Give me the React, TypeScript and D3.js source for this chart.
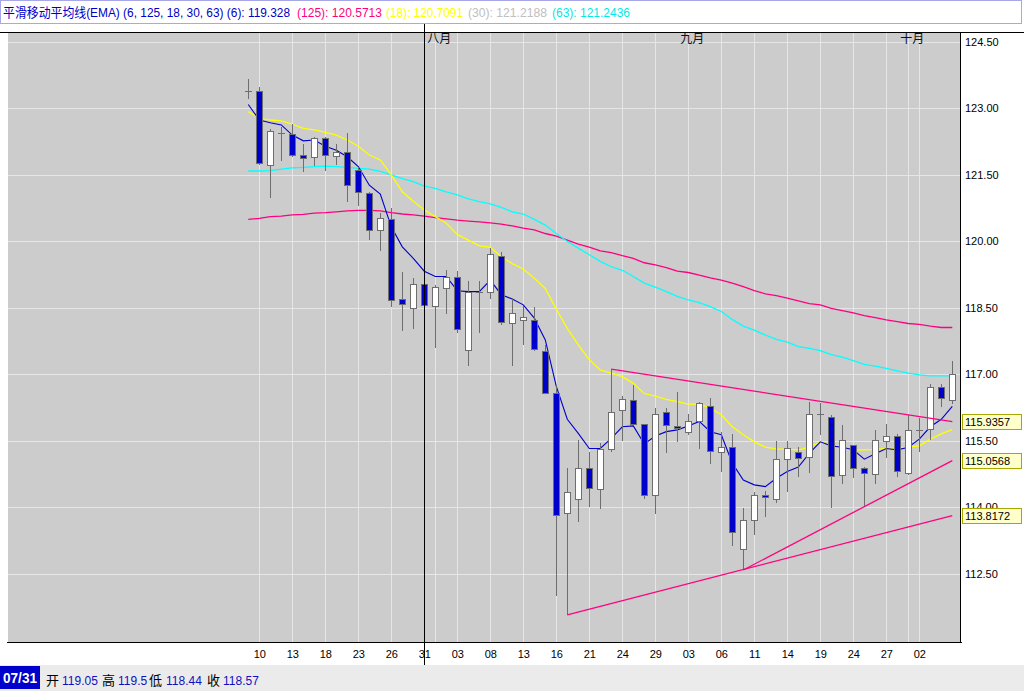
import React, { useEffect, useRef } from 'react';
import * as d3 from 'd3';

// candles (index 0..64)
const opens = [
  123.39, 123.40, 121.72, 122.45, 122.42, 121.94, 121.90, 122.33, 121.92, 122.01,
  121.61, 121.10, 120.27, 120.50, 118.70, 118.49, 119.05, 118.54, 118.94, 119.21,
  117.55, 118.86, 118.85, 119.67, 118.15, 118.22, 118.24, 117.54, 116.58, 113.87,
  114.18, 114.88, 114.41, 115.31, 116.19, 116.42, 115.88, 114.27, 116.15, 115.83,
  115.71, 115.96, 116.30, 115.24, 115.37, 113.06, 113.71, 114.28, 114.18, 115.09,
  115.24, 115.13, 116.11, 116.05, 114.73, 115.40, 114.88, 114.75, 115.49, 115.62,
  114.77, 115.75, 115.76, 116.71, 116.42,
];
const highs = [
  123.66, 123.48, 122.53, 122.58, 122.64, 122.20, 122.36, 122.36, 122.20, 122.45,
  121.67, 121.12, 120.64, 120.75, 119.32, 119.17, 119.50, 119.02, 119.36, 119.34,
  119.11, 119.11, 119.86, 119.76, 118.72, 118.55, 118.52, 117.67, 116.76, 114.89,
  115.52, 115.26, 115.45, 117.12, 116.52, 116.76, 115.88, 116.24, 116.24, 116.60,
  116.10, 116.39, 116.46, 115.71, 115.66, 113.98, 114.36, 114.38, 115.50, 115.49,
  115.36, 116.39, 116.36, 116.09, 115.86, 115.41, 114.91, 115.75, 115.88, 115.66,
  116.09, 116.01, 116.79, 116.79, 117.30,
];
const lows = [
  123.21, 121.72, 120.97, 121.82, 121.91, 121.56, 121.71, 121.58, 121.72, 120.88,
  120.79, 120.03, 119.79, 118.52, 117.99, 118.02, 118.44, 117.59, 118.36, 117.93,
  117.18, 117.94, 118.71, 118.12, 117.20, 117.67, 117.54, 116.58, 112.01, 111.575,
  113.68, 114.00, 113.97, 115.26, 115.51, 115.88, 114.20, 113.85, 115.22, 115.48,
  115.64, 115.32, 114.98, 114.79, 113.12, 112.59, 113.38, 113.78, 114.09, 114.34,
  114.68, 114.77, 115.64, 113.98, 114.53, 114.66, 114.02, 114.53, 115.12, 114.68,
  114.73, 115.26, 115.52, 116.27, 116.34,
];
const closes = [
  123.39, 121.76, 122.50, 122.45, 121.94, 121.88, 122.33, 121.94, 122.01, 121.27,
  121.11, 120.27, 120.52, 118.68, 118.59, 119.05, 118.57, 118.97, 119.21, 118.02,
  118.87, 118.86, 119.72, 118.18, 118.38, 118.29, 117.58, 116.58, 113.82, 114.36,
  114.88, 114.43, 115.33, 116.15, 116.44, 115.88, 114.27, 116.10, 115.85, 115.79,
  115.96, 116.35, 115.27, 115.36, 113.44, 113.71, 114.28, 114.23, 115.09, 115.34,
  115.11, 116.10, 116.11, 114.71, 115.52, 114.88, 114.77, 115.52, 115.61, 114.82,
  115.74, 115.75, 116.71, 116.46, 117.01,
];

// moving averages as drawn
const ema6 = [
  123.09, 122.74, 122.68, 122.63, 122.40, 122.27, 122.29, 122.15, 122.06, 121.91,
  121.69, 121.27, 121.07, 120.33, 119.88, 119.62, 119.33, 119.21, 119.21, 118.89,
  118.87, 118.87, 119.13, 118.80, 118.70, 118.57, 118.27, 117.78, 116.73, 115.99,
  115.67, 115.33, 115.33, 115.56, 115.82, 115.84, 115.43, 115.61, 115.71, 115.75,
  115.84, 115.94, 115.71, 115.64, 115.00, 114.62, 114.51, 114.47, 114.66, 114.81,
  114.91, 115.22, 115.48, 115.39, 115.36, 115.30, 115.09, 115.21, 115.33, 115.30,
  115.36, 115.54, 115.82, 115.99, 116.28,
];
const ema18 = [
  122.93, 122.78, 122.74, 122.72, 122.65, 122.55, 122.52, 122.46, 122.40, 122.29,
  122.15, 121.95, 121.84, 121.50, 121.12, 120.91, 120.71, 120.56, 120.41, 120.16,
  120.03, 119.90, 119.87, 119.66, 119.50, 119.38, 119.17, 118.94, 118.47, 118.04,
  117.67, 117.33, 117.10, 117.03, 116.95, 116.80, 116.57, 116.51, 116.44, 116.39,
  116.33, 116.33, 116.24, 116.09, 115.82, 115.64, 115.48, 115.36, 115.32, 115.31,
  115.30, 115.36, 115.48, 115.41, 115.36, 115.30, 115.30, 115.31, 115.33, 115.33,
  115.36, 115.39, 115.54, 115.66, 115.76,
];
const ema63 = [
  121.59, 121.59, 121.60, 121.63, 121.66, 121.67, 121.69, 121.70, 121.69, 121.67,
  121.65, 121.63, 121.58, 121.50, 121.42, 121.35, 121.25, 121.20, 121.12, 121.05,
  120.96, 120.90, 120.85, 120.77, 120.67, 120.62, 120.50, 120.37, 120.18, 120.00,
  119.85, 119.70, 119.55, 119.43, 119.35, 119.21, 119.06, 118.97, 118.87, 118.76,
  118.68, 118.62, 118.53, 118.42, 118.24, 118.09, 118.00, 117.89, 117.79, 117.73,
  117.63, 117.59, 117.54, 117.45, 117.39, 117.31, 117.23, 117.19, 117.14, 117.08,
  117.03, 116.99, 116.97, 116.97, 116.97,
];
const ema125 = [
  120.50, 120.52, 120.56, 120.57, 120.60, 120.61, 120.64, 120.65, 120.67, 120.69,
  120.70, 120.70, 120.69, 120.65, 120.62, 120.60, 120.57, 120.54, 120.51, 120.48,
  120.46, 120.44, 120.42, 120.39, 120.35, 120.30, 120.26, 120.18, 120.12, 120.03,
  119.94, 119.87, 119.79, 119.75, 119.68, 119.62, 119.52, 119.47, 119.41, 119.33,
  119.30, 119.24, 119.18, 119.13, 119.06, 118.98, 118.89, 118.82, 118.78, 118.72,
  118.66, 118.60, 118.57, 118.49, 118.44, 118.39, 118.33, 118.28, 118.23, 118.19,
  118.15, 118.13, 118.09, 118.06, 118.06,
];

// x axis
const tickIndex = [1, 4, 7, 10, 13, 16, 19, 22, 25, 28, 31, 34, 37, 40, 43, 46, 49, 52, 55, 58, 61];
const tickLabels = ['10', '13', '18', '23', '26', '31', '03', '08', '13', '16', '21', '24', '29', '03', '06', '11', '14', '19', '24', '27', '02'];
const monthIndex = [17, 40, 60];
const monthLabels = ['八月', '九月', '十月'];

// y axis
const priceTicks = [124.5, 123, 121.5, 120, 118.5, 117, 115.5, 114, 112.5];

// trend lines
const trendFrom = [33, 29, 45];
const trendFromVal = [117.12, 111.575, 112.59];
const trendTo = [64, 64, 64];
const trendToVal = [115.9357, 113.8172, 115.0568];

// cursor / legend
const cursorIndex = 16;
const cursorDate = '07/31';
const legendParts = [
  { text: '平滑移动平均线(EMA) (6, 125, 18, 30, 63) (6): 119.328', color: '#0000c8', x: 3, w: 287 },
  { text: '(125): 120.5713', color: '#ff0080', x: 297, w: 85 },
  { text: '(18): 120.7091', color: '#ffff00', x: 386, w: 77 },
  { text: '(30): 121.2188', color: '#c0c0c0', x: 468, w: 79 },
  { text: '(63): 121.2436', color: '#00e8e8', x: 552, w: 78 },
];

const FONT = "'Liberation Sans', Arial, 'Noto Sans CJK SC', sans-serif";

const App: React.FC = () => {
  const svgRef = useRef<SVGSVGElement>(null);

  useEffect(() => {
    const svg = d3.select(svgRef.current);
    svg.selectAll('*').remove();

    const width = 1024;
    const height = 691;
    const plot = { left: 8, right: 961, top: 33, bottom: 642 };

    svg.attr('width', width).attr('height', height);

    const x = d3.scaleLinear().domain([0, 64]).range([248.3, 952.3]);
    const y = d3.scaleLinear().domain([110.965, 124.703]).range([plot.bottom, plot.top]);
    const px = (v: number) => Math.round(v) + 0.5;

    svg.append('rect').attr('width', width).attr('height', height).attr('fill', '#fff');

    // legend bar
    svg.append('rect')
      .attr('x', 0.5).attr('y', 0.5).attr('width', 1021).attr('height', 23)
      .attr('fill', '#fff').attr('stroke', '#a8a8e8');
    const lt = svg.append('g').attr('font-family', FONT).attr('font-size', 13);
    legendParts.forEach(p => {
      lt.append('text').attr('x', p.x).attr('y', 17).attr('fill', p.color)
        .attr('textLength', p.w).attr('lengthAdjust', 'spacingAndGlyphs')
        .text(p.text);
    });

    // plot background
    svg.append('rect')
      .attr('x', plot.left).attr('y', plot.top)
      .attr('width', plot.right - plot.left).attr('height', plot.bottom - plot.top)
      .attr('fill', '#cccccc');

    // grid
    const grid = svg.append('g').attr('stroke', '#e6e6e6').attr('stroke-width', 1).attr('shape-rendering', 'crispEdges');
    priceTicks.forEach(t => {
      grid.append('line').attr('x1', plot.left).attr('x2', plot.right)
        .attr('y1', px(y(t))).attr('y2', px(y(t)));
    });
    [...tickIndex, ...monthIndex].forEach(i => {
      grid.append('line').attr('x1', px(x(i))).attr('x2', px(x(i)))
        .attr('y1', plot.top).attr('y2', plot.bottom);
    });

    // month labels
    const ml = svg.append('g').attr('font-family', FONT).attr('font-size', 12).attr('fill', '#111');
    monthIndex.forEach((i, k) => {
      ml.append('text').attr('x', x(i) + 4).attr('y', 43).attr('text-anchor', 'middle').text(monthLabels[k]);
    });

    // moving average lines (under the candles)
    const lineFor = (vals: number[]) => d3.line<number>().x((_, i) => x(i)).y(v => y(v))(vals) || '';
    const emaLines = [
      { vals: ema125, color: '#ff0080', w: 1.3 },
      { vals: ema63, color: '#00ffff', w: 1.3 },
      { vals: ema18, color: '#ffff00', w: 1.3 },
      { vals: ema6, color: '#0000cc', w: 1.1 },
    ];
    emaLines.forEach(l => {
      svg.append('path').attr('d', lineFor(l.vals)).attr('fill', 'none')
        .attr('stroke', l.color).attr('stroke-width', l.w);
    });

    // candles
    const cg = svg.append('g').attr('shape-rendering', 'crispEdges');
    opens.forEach((o, i) => {
      const c = closes[i];
      const cx = Math.round(x(i));
      cg.append('line').attr('x1', cx + 0.5).attr('x2', cx + 0.5)
        .attr('y1', y(highs[i])).attr('y2', y(lows[i]))
        .attr('stroke', '#6e6e6e').attr('stroke-width', 1);
      if (Math.abs(o - c) < 0.005) {
        cg.append('line').attr('x1', cx - 3).attr('x2', cx + 4)
          .attr('y1', px(y(o))).attr('y2', px(y(o)))
          .attr('stroke', '#6e6e6e').attr('stroke-width', 1);
      } else {
        const top = Math.round(y(Math.max(o, c)));
        const bot = Math.round(y(Math.min(o, c)));
        cg.append('rect').attr('x', cx - 2.5).attr('y', top + 0.5)
          .attr('width', 6).attr('height', Math.max(1, bot - top))
          .attr('fill', c > o ? '#ffffff' : '#0000cc')
          .attr('stroke', '#6e6e6e').attr('stroke-width', 1);
      }
    });

    // trend lines
    trendFrom.forEach((f, k) => {
      svg.append('line')
        .attr('x1', x(f)).attr('y1', y(trendFromVal[k]))
        .attr('x2', x(trendTo[k])).attr('y2', y(trendToVal[k]))
        .attr('stroke', '#ff0080').attr('stroke-width', 1.3);
    });

    // frame
    const frame = svg.append('g').attr('stroke', '#000').attr('stroke-width', 1).attr('shape-rendering', 'crispEdges');
    frame.append('line').attr('x1', 0).attr('x2', width).attr('y1', 32.5).attr('y2', 32.5);
    frame.append('line').attr('x1', 7).attr('x2', plot.right + 0.5).attr('y1', plot.bottom + 0.5).attr('y2', plot.bottom + 0.5);
    frame.append('line').attr('x1', plot.right - 0.5).attr('x2', plot.right - 0.5).attr('y1', 32).attr('y2', plot.bottom + 1);

    // right price axis (the 114.00 label sits partly under the trend-value box, as in the original)
    const ya = svg.append('g').attr('font-family', FONT).attr('font-size', 11).attr('fill', '#000');
    priceTicks.forEach(t => {
      ya.append('text').attr('x', 965).attr('y', y(t) + 4).text(t.toFixed(2));
    });
    trendToVal.forEach(v => {
      const yy = Math.round(y(v));
      svg.append('rect').attr('x', 962.5).attr('y', yy - 7.5).attr('width', 59).attr('height', 15)
        .attr('fill', '#ffffcc').attr('stroke', '#a8a800').attr('shape-rendering', 'crispEdges');
      svg.append('text').attr('x', 965).attr('y', yy + 4)
        .attr('font-family', FONT).attr('font-size', 11).attr('fill', '#000').text(v.toFixed(4));
    });

    // bottom date axis
    const xa = svg.append('g').attr('font-family', FONT).attr('font-size', 11).attr('fill', '#000');
    tickIndex.forEach((i, k) => {
      xa.append('text').attr('x', x(i) + 0.5).attr('y', 658).attr('text-anchor', 'middle').text(tickLabels[k]);
    });

    // status bar
    svg.append('rect').attr('x', 0).attr('y', 665).attr('width', width).attr('height', 26).attr('fill', '#ebebeb');
    svg.append('rect').attr('x', 0).attr('y', 666).attr('width', 40).attr('height', 23).attr('fill', '#0000cc');
    svg.append('text').attr('x', 20).attr('y', 683).attr('text-anchor', 'middle')
      .attr('font-family', FONT).attr('font-size', 14).attr('font-weight', 'bold').attr('fill', '#fff')
      .attr('textLength', 34).attr('lengthAdjust', 'spacingAndGlyphs')
      .text(cursorDate);
    const statusParts = [
      { text: '开', color: '#000', x: 46, size: 13 },
      { text: opens[cursorIndex].toFixed(2), color: '#1010c0', x: 62, size: 12 },
      { text: '高', color: '#000', x: 102, size: 13 },
      { text: String(highs[cursorIndex]), color: '#1010c0', x: 118, size: 12 },
      { text: '低', color: '#000', x: 149, size: 13 },
      { text: lows[cursorIndex].toFixed(2), color: '#1010c0', x: 166, size: 12 },
      { text: '收', color: '#000', x: 207, size: 13 },
      { text: closes[cursorIndex].toFixed(2), color: '#1010c0', x: 223, size: 12 },
    ];
    statusParts.forEach(p => {
      svg.append('text').attr('x', p.x).attr('y', 685)
        .attr('font-family', FONT).attr('font-size', p.size).attr('fill', p.color).text(p.text);
    });

    // crosshair at the cursor date
    svg.append('line')
      .attr('x1', px(x(cursorIndex))).attr('x2', px(x(cursorIndex)))
      .attr('y1', 24).attr('y2', 665)
      .attr('stroke', '#000').attr('stroke-width', 1).attr('shape-rendering', 'crispEdges');
  }, []);

  return (
    <svg ref={svgRef} style={{ position: 'absolute', left: 0, top: 0, display: 'block' }}></svg>
  );
};

export default App;
